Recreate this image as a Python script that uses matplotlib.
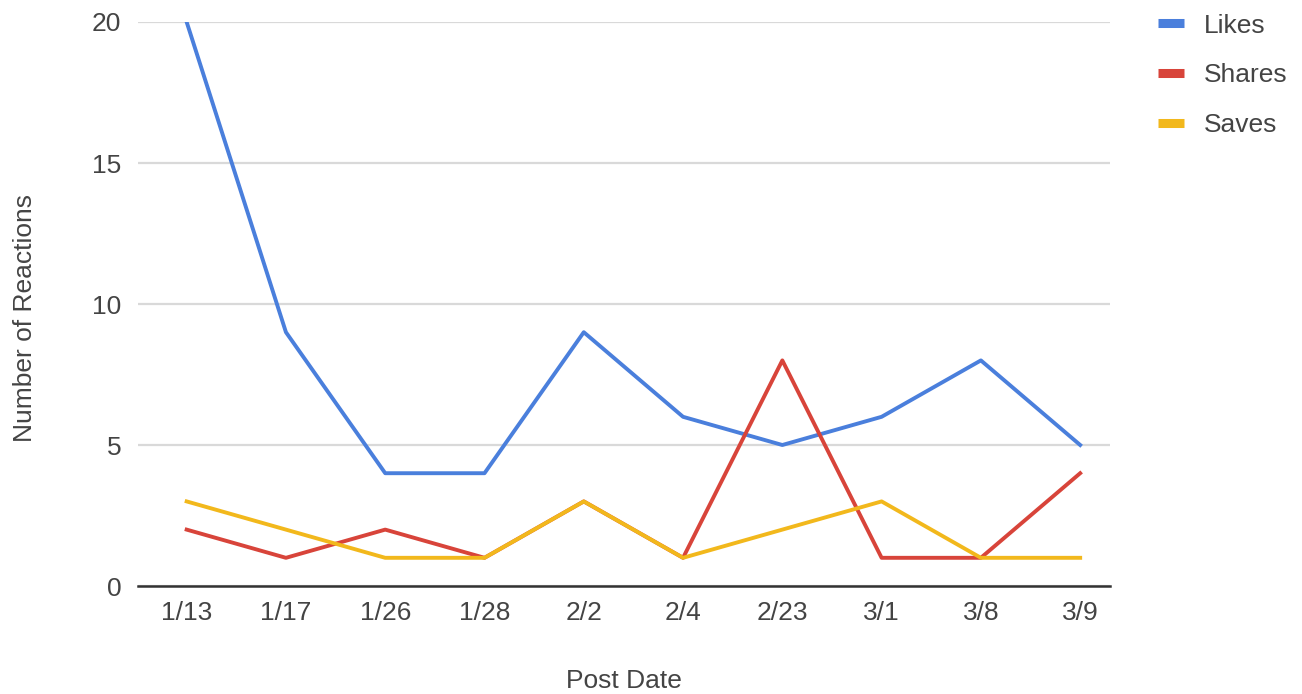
import matplotlib
matplotlib.use("Agg")
import matplotlib.pyplot as plt

plt.rcParams["font.family"] = ["Liberation Sans", "DejaVu Sans"]

# Reactions per post
post_dates = ["1/13", "1/17", "1/26", "1/28", "2/2", "2/4", "2/23", "3/1", "3/8", "3/9"]
likes = [20, 9, 4, 4, 9, 6, 5, 6, 8, 5]
shares = [2, 1, 2, 1, 3, 1, 8, 1, 1, 4]
saves = [3, 2, 1, 1, 3, 1, 2, 3, 1, 1]

series = [
    ("Likes", likes, "#4a7fdc"),
    ("Shares", shares, "#d8443a"),
    ("Saves", saves, "#f2b81c"),
]

text_color = "#444444"
fs = 19

fig = plt.figure(figsize=(13.02, 6.94), dpi=100)
ax = fig.add_axes([0.106, 0.1556, 0.7465, 0.8127])

x = range(len(post_dates))
for name, values, color in series:
    ax.plot(x, values, color=color, linewidth=2.8, label=name)

ax.set_xlim(-0.49, 9.3)
ax.set_ylim(0, 20)
ax.set_yticks([0, 5, 10, 15, 20])
ax.set_xticks(list(x))
ax.set_xticklabels(post_dates)

ax.grid(axis="y", color="#d9d9d9", linewidth=1.6)
ax.set_axisbelow(True)
for side in ["top", "right", "left"]:
    ax.spines[side].set_visible(False)
ax.spines["bottom"].set_color("#333333")
ax.spines["bottom"].set_linewidth(1.8)
ax.spines["bottom"].set_zorder(5)

ax.tick_params(axis="both", length=0, labelsize=fs, colors=text_color)
ax.tick_params(axis="x", pad=11)
ax.tick_params(axis="y", pad=12)

ax.set_xlabel("Post Date", fontsize=fs, color=text_color)
ax.set_ylabel("Number of Reactions", fontsize=fs, color=text_color)
ax.xaxis.set_label_coords(0.5, -0.147)
ax.yaxis.set_label_coords(-0.104, 0.475)

leg = ax.legend(loc="upper left", bbox_to_anchor=(1.025, 1.057), frameon=False,
                fontsize=fs, handlelength=1.0, handletextpad=0.75,
                labelspacing=0.98, labelcolor=text_color)
for line in leg.get_lines():
    line.set_linewidth(6.5)
    line.set_solid_capstyle("butt")

fig.savefig("out.png", dpi=100, facecolor="white")
